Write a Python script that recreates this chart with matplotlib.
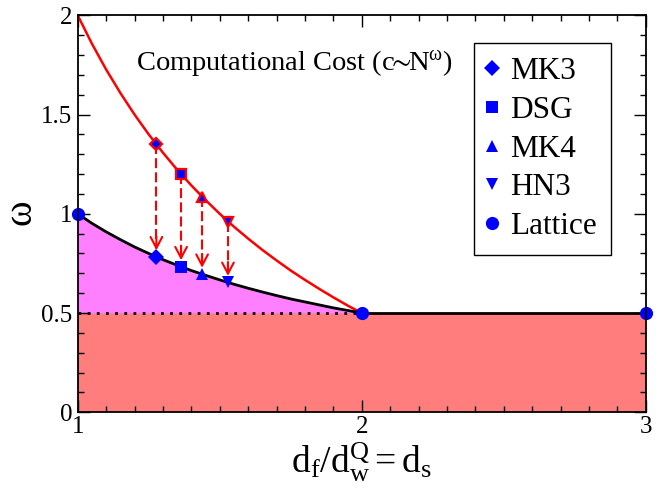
import matplotlib
matplotlib.use("Agg")
import matplotlib.pyplot as plt
from matplotlib.ticker import MultipleLocator

plt.rcParams['font.family'] = 'Liberation Serif'
plt.rcParams['mathtext.fontset'] = 'custom'
plt.rcParams['mathtext.rm'] = 'Liberation Serif'
plt.rcParams['mathtext.it'] = 'Liberation Serif:italic'

# ---- data ----
curve_ds = [1.00, 1.05, 1.10, 1.15, 1.20, 1.25, 1.30, 1.35, 1.40, 1.45, 1.50,
            1.55, 1.60, 1.65, 1.70, 1.75, 1.80, 1.85, 1.90, 1.95, 2.00]
red_curve = [2.000, 1.857, 1.727, 1.609, 1.500, 1.400, 1.308, 1.222, 1.143, 1.069, 1.000,
             0.935, 0.875, 0.818, 0.765, 0.714, 0.667, 0.622, 0.579, 0.538, 0.500]
black_curve = [1.000, 0.952, 0.909, 0.870, 0.833, 0.800, 0.769, 0.741, 0.714, 0.690, 0.667,
               0.645, 0.625, 0.606, 0.588, 0.571, 0.556, 0.541, 0.526, 0.513, 0.500]

names = ['MK3', 'DSG', 'MK4', 'HN3']
markers = ['D', 's', '^', 'v']
ds_vals = [1.277, 1.364, 1.438, 1.529]
omega_upper = [1.349, 1.199, 1.086, 0.958]
omega_lower = [0.783, 0.733, 0.695, 0.654]

lattice_ds = [1.0, 2.0, 3.0]
lattice_omega = [1.0, 0.5, 0.5]

floor_ds = [1.0, 3.0]
floor_omega = [0.5, 0.5]

serif = 'Liberation Serif'

fig = plt.figure(figsize=(6.63, 4.96), dpi=100)
ax = fig.add_axes([0.1172, 0.1688, 0.8568, 0.8004])

# fills
ax.fill_between(floor_ds, 0, floor_omega, color='#ff7d7d', lw=0, zorder=1)
ax.fill_between(curve_ds, floor_omega[0], black_curve, color='#ff80ff', lw=0, zorder=1)

# lines
ax.plot(curve_ds, red_curve, color='red', lw=1.8, zorder=3)
ax.plot(curve_ds, black_curve, color='black', lw=2.0, zorder=3)
ax.plot([floor_ds[0], lattice_ds[1]], [floor_omega[0], lattice_omega[1]], color='black',
        lw=2.0, linestyle=(0, (1, 2.3)), zorder=3)
ax.plot(lattice_ds[1:], lattice_omega[1:], color='black', lw=2.0, zorder=3)

# arrows
for x, yu, yl in zip(ds_vals, omega_upper, omega_lower):
    tip = yl + 0.033
    ax.plot([x, x], [yu, tip + 0.01], color='red', lw=1.5, dashes=(4.8, 2.0), zorder=4)
    ax.annotate('', xy=(x, tip), xytext=(x, tip + 0.07),
                arrowprops=dict(arrowstyle='->,head_length=0.8,head_width=0.42',
                                color='red', lw=1.5, shrinkA=0, shrinkB=0), zorder=5)

# markers
handles = []
for name, m, x, yu, yl in zip(names, markers, ds_vals, omega_upper, omega_lower):
    ms_up = 6.0 if m == 'D' else 6.8
    ax.plot([x], [yu], marker=m, ms=ms_up, mfc='blue', mec='red', mew=1.6,
            ls='none', zorder=6)
    ms_lo = 8.0 if m == 'D' else 9.0
    h, = ax.plot([x], [yl], marker=m, ms=ms_lo, mfc='blue', mec='blue', mew=0,
                 ls='none', zorder=6, label=name)
    handles.append(h)
hl, = ax.plot(lattice_ds, lattice_omega, marker='o', ms=9.5, mfc='blue', mec='blue',
              mew=0, ls='none', zorder=7, clip_on=False, label='Lattice')
handles.append(hl)

ax.set_xlim(1, 3)
ax.set_ylim(0, 2)
ax.xaxis.set_minor_locator(MultipleLocator(0.1))
ax.yaxis.set_minor_locator(MultipleLocator(0.1))
ax.set_yticks([0, 0.5, 1, 1.5, 2])
ax.set_yticklabels(['0', '0.5', '1', '1.5', '2'], fontfamily=serif)
ax.set_xticks([1, 2, 3])
ax.set_xticklabels(['1', '2', '3'], fontfamily=serif)
ax.tick_params(which='both', direction='in', top=True, right=True, labelsize=18)
ax.tick_params(which='major', length=8.5, width=1.0)
ax.tick_params(which='minor', length=4, width=1.0)
ax.tick_params(axis='y', pad=4)
ax.tick_params(axis='x', pad=3)
for s in ax.spines.values():
    s.set_linewidth(1.3)
    s.set_zorder(8)

ax.set_xlabel(r'$\mathregular{d_f/d_w^Q = d_s}$', fontsize=27, labelpad=2)
ax.set_ylabel(r'$\mathregular{\omega}$', fontsize=28, labelpad=0)

ax.text(1.762, 1.724, r'Computational Cost (c$\mathregular{\!\!{\sim}\!\!N^{\omega}}$)',
        fontsize=20.5, ha='center', va='baseline', zorder=9, fontfamily=serif)

leg = ax.legend(handles=handles, loc='upper right', bbox_to_anchor=(0.939, 0.930),
                borderaxespad=0, prop=dict(family=serif, size=22.5), frameon=True,
                fancybox=False, edgecolor='black', framealpha=1, handlelength=0.2,
                handletextpad=0.5, labelspacing=0.31, borderpad=0.45, numpoints=1)
leg.get_frame().set_linewidth(1.0)
leg.set_zorder(10)

fig.savefig('out.png', dpi=100)
